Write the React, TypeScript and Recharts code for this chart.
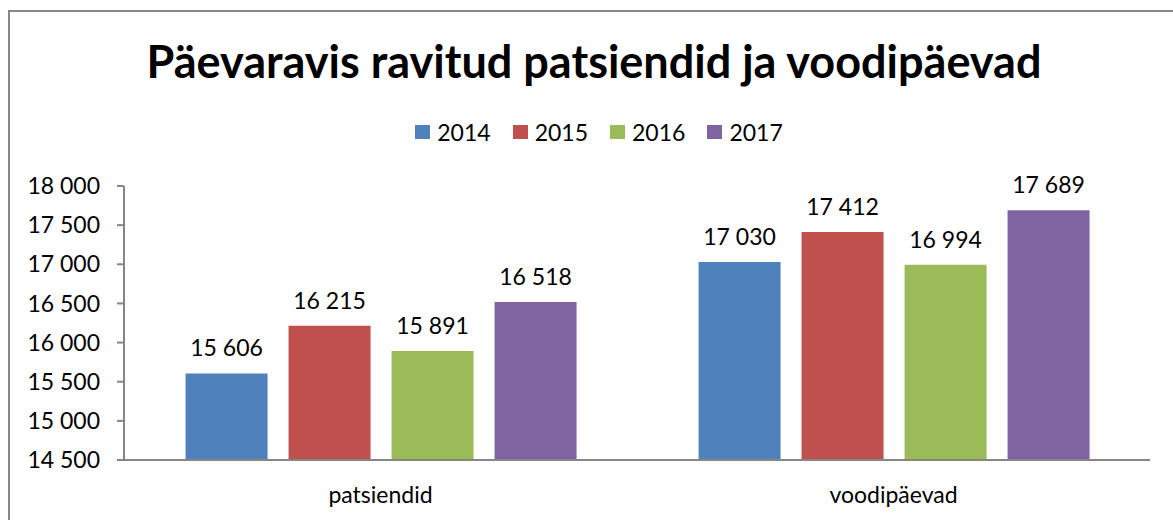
import { BarChart, Bar, XAxis, YAxis, LabelList } from 'recharts';

const categories = ['patsiendid', 'voodipäevad'];
const years = ['2014', '2015', '2016', '2017'];
const colors = ['#4F81BD', '#C0504D', '#9BBB59', '#8064A2'];
const values2014 = [15606, 17030];
const values2015 = [16215, 17412];
const values2016 = [15891, 16994];
const values2017 = [16518, 17689];
const yTicks = [14500, 15000, 15500, 16000, 16500, 17000, 17500, 18000];

const seriesValues = [values2014, values2015, values2016, values2017];

const chartData = categories.map((name, i) => {
  const row: Record<string, string | number> = { name };
  years.forEach((y, s) => {
    row[y] = seriesValues[s][i];
  });
  return row;
});

// tuhandete eraldaja tühikuga: 18 000
const fmt = (v: number) => String(v).replace(/\B(?=(\d{3})+(?!\d))/g, ' ');

const FONT = 'Lato, "Open Sans", sans-serif';
const AXIS = '#868686';

export default function App() {
  return (
    <div
      style={{
        position: 'absolute',
        left: 0,
        top: 0,
        width: 1173,
        height: 520,
        overflow: 'hidden',
        background: '#fff',
        fontFamily: FONT,
      }}
    >
      <div
        style={{
          position: 'absolute',
          left: 8,
          top: 10,
          width: 1180,
          height: 530,
          borderLeft: '2px solid #878787',
          borderTop: '2px solid #878787',
        }}
      />
      <div
        style={{
          position: 'absolute',
          left: 0,
          width: 1188,
          top: 33,
          textAlign: 'center',
          fontSize: 45,
          fontWeight: 700,
          color: '#000',
          lineHeight: '56px',
        }}
      >
        Päevaravis ravitud patsiendid ja voodipäevad
      </div>
      <div
        style={{
          position: 'absolute',
          left: 0,
          width: 1198,
          top: 118,
          display: 'flex',
          justifyContent: 'center',
          alignItems: 'center',
          fontSize: 23,
          color: '#000',
          lineHeight: '28px',
        }}
      >
        {years.map((y, i) => (
          <span key={y} style={{ display: 'flex', alignItems: 'center', marginRight: i < years.length - 1 ? 22 : 0 }}>
            <span style={{ width: 15, height: 14, background: colors[i], marginRight: 7, display: 'inline-block' }} />
            {y}
          </span>
        ))}
      </div>
      <div style={{ position: 'absolute', left: 0, top: 0 }}>
        <BarChart
          width={1173}
          height={520}
          data={chartData}
          margin={{ top: 186, right: 23, left: 44, bottom: 20 }}
          barCategoryGap="12%"
          barGap={21}
        >
          <XAxis
            dataKey="name"
            axisLine={{ stroke: AXIS, strokeWidth: 2 }}
            tickLine={false}
            tickSize={0}
            tickMargin={27}
            height={40}
            tick={{ fill: '#000', fontSize: 23, fontFamily: FONT }}
          />
          <YAxis
            width={80}
            domain={[14500, 18000]}
            ticks={yTicks}
            interval={0}
            axisLine={{ stroke: AXIS, strokeWidth: 2 }}
            tickLine={{ stroke: AXIS, strokeWidth: 2 }}
            tickSize={7}
            tickMargin={17}
            tickFormatter={fmt}
            tick={{ fill: '#000', fontSize: 23, fontFamily: FONT }}
          />
          {years.map((y, i) => (
            <Bar key={y} dataKey={y} fill={colors[i]} isAnimationActive={false}>
              <LabelList
                dataKey={y}
                position="top"
                offset={17}
                formatter={(v: number) => fmt(v)}
                style={{ fill: '#000', fontSize: 23, fontFamily: FONT }}
              />
            </Bar>
          ))}
        </BarChart>
      </div>
    </div>
  );
}
